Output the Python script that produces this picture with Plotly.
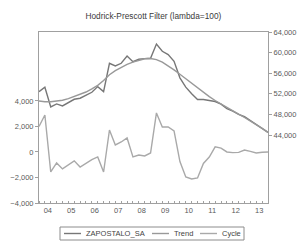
import plotly.graph_objects as go

quarters = [f"{y}Q{q}" for y in range(2004, 2014) for q in range(1, 5)]

actual = [52420, 53270, 49450, 50030, 49640, 50280, 50940, 51140, 51780, 52300,
          53400, 52420, 57930, 57400, 57930, 59340, 58240, 58700, 58830, 58900,
          61670, 60250, 59600, 58310, 55100, 53300, 52000, 50900, 50900, 50750,
          50500, 50000, 49100, 48650, 48000, 47550, 46800, 45950, 45300, 44500]

trend = [50600, 50450, 50450, 50550, 50750, 51050, 51450, 51900, 52350, 52950,
         53650, 54600, 55700, 56500, 57150, 57700, 58150, 58550, 58800, 58850,
         58650, 58150, 57450, 56650, 55800, 54900, 54000, 53100, 52250, 51450,
         50700, 50000, 49350, 48700, 48050, 47400, 46750, 46050, 45300, 44500]

cycle = [2000, 2900, -1570, -860, -1330, -1020, -700, -1180, -860, -600,
         -390, -1570, 1720, 550, 780, 1100, -390, -240, -310, -80,
         3060, 1960, 1960, 1650, -750, -1960, -2120, -2040, -900, -400,
         400, 300, 0, -50, -30, 150, 50, -80, -20, 0]

series_names = ["ZAPOSTALO_SA", "Trend", "Cycle"]
year_labels = ["04", "05", "06", "07", "08", "09", "10", "11", "12", "13"]
left_ticks = [-4000, -2000, 0, 2000, 4000]
right_ticks = [44000, 48000, 52000, 56000, 60000, 64000]

colors = ["#777777", "#999999", "#a9a9a9"]
x = list(range(len(quarters)))

W, H = 299, 242
ML, MR, MT, MB = 39, 31, 32, 39
PW, PH = W - ML - MR, H - MT - MB

fig = go.Figure()
fig.add_trace(go.Scatter(x=x, y=actual, name=series_names[0], mode="lines",
                         line=dict(color=colors[0], width=1.4), yaxis="y2"))
fig.add_trace(go.Scatter(x=x, y=trend, name=series_names[1], mode="lines",
                         line=dict(color=colors[1], width=1.4), yaxis="y2"))
fig.add_trace(go.Scatter(x=x, y=cycle, name=series_names[2], mode="lines",
                         line=dict(color=colors[2], width=1.4), yaxis="y"))

axis_col = "#a0a0a0"
font_fam = "Liberation Sans, Arial"
tick_font = dict(family=font_fam, size=7.5, color="#5a5a5a")


def px_x(p):
    return (p - ML) / PW


def px_y(p):
    return (H - MB - p) / PH


# custom legend (box, line samples, labels)
leg_box = (60, 227, 244, 240)
leg_lines = [(64, 81), (152, 169), (200, 217)]
leg_text_x = [84, 172, 220]
leg_y = 233.5

shapes = [dict(type="rect", xref="paper", yref="paper",
               x0=px_x(leg_box[0]), x1=px_x(leg_box[2]),
               y0=px_y(leg_box[3]), y1=px_y(leg_box[1]),
               line=dict(color="#8c8c8c", width=1), fillcolor="white")]
annotations = []
for i, name in enumerate(series_names):
    shapes.append(dict(type="line", xref="paper", yref="paper",
                       x0=px_x(leg_lines[i][0]), x1=px_x(leg_lines[i][1]),
                       y0=px_y(leg_y), y1=px_y(leg_y),
                       line=dict(color=colors[i], width=1.4)))
    annotations.append(dict(text=name, xref="paper", yref="paper",
                            x=px_x(leg_text_x[i]), y=px_y(leg_y),
                            xanchor="left", yanchor="middle", showarrow=False,
                            font=dict(family=font_fam, size=7.5, color="#444444")))

fig.update_layout(
    width=W, height=H,
    margin=dict(l=ML, r=MR, t=MT, b=MB, autoexpand=False),
    paper_bgcolor="white", plot_bgcolor="white",
    title=dict(text="Hodrick-Prescott Filter (lambda=100)", x=0.513, xanchor="center",
               y=0.932, yanchor="middle",
               font=dict(family=font_fam, size=8.3, color="#3a3a3a")),
    showlegend=False,
    shapes=shapes,
    annotations=annotations,
    xaxis=dict(range=[0, len(quarters) - 1], tickmode="array",
               tickvals=[1.5 + 4 * k for k in range(len(year_labels))],
               ticktext=year_labels, ticks="", showgrid=False, zeroline=False,
               showline=True, linecolor=axis_col, linewidth=1, mirror=True,
               tickfont=tick_font,
               minor=dict(tickmode="array", tickvals=x, ticks="inside", ticklen=2,
                          tickcolor=axis_col, showgrid=False)),
    yaxis=dict(range=[-4000, 9400], tickmode="array", tickvals=left_ticks,
               tickformat=",", ticks="outside", ticklen=3, tickcolor=axis_col,
               showgrid=False, zeroline=False, showline=True, linecolor=axis_col,
               linewidth=1, tickfont=tick_font),
    yaxis2=dict(range=[30800, 64000], tickmode="array", tickvals=right_ticks,
                tickformat=",", ticks="outside", ticklen=3, tickcolor=axis_col,
                overlaying="y", side="right", showgrid=False, zeroline=False,
                showline=True, linecolor=axis_col, linewidth=1, tickfont=tick_font),
)

fig.write_html("out.html", config={"displayModeBar": False},
               post_script="document.body.style.margin='0';document.body.style.overflow='hidden';")
